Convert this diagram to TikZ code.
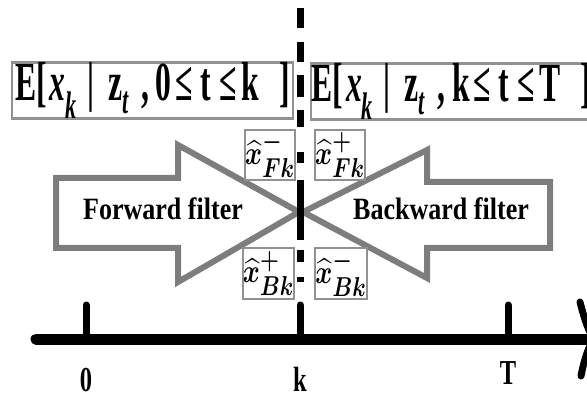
\documentclass[tikz,border=0pt]{standalone}
\usepackage{fontspec}
\setmainfont{Liberation Serif}
\usepackage{amsmath,bm,graphicx}
\definecolor{framegray}{RGB}{145,145,145}
\definecolor{arrowgray}{RGB}{125,125,125}
\newcommand{\condtext}[2]{E[\hspace{5pt}\textit{x}\textsubscript{\textit{k}}\hspace{18pt}|\hspace{25pt}z\textsubscript{\textit{t}}\hspace{20pt},\hspace{12pt}#1\hspace{6pt}≤\hspace{14pt}t\hspace{14pt}≤\hspace{8pt}#2\hspace{36pt}]}

\begin{document}
\begin{tikzpicture}[x=1pt,y=-1pt,
    condbox/.style={draw=framegray,line width=2.5pt,minimum width=281pt,minimum height=55pt,
      inner sep=0pt,font=\fontsize{55}{60}\selectfont\bfseries},
    estbox/.style={draw=framegray,line width=2pt,minimum width=46pt,minimum height=50pt,
      inner sep=0pt,font=\fontsize{19}{22}\selectfont},
    filterarrow/.style={draw=arrowgray,line width=6pt,line join=miter},
    filtertext/.style={font=\fontsize{31}{33}\selectfont\bfseries,anchor=base,inner sep=0pt},
    ticklabel/.style={font=\fontsize{35}{36}\selectfont\bfseries,anchor=base,inner sep=0pt},
    timetick/.style={line width=7pt,line cap=round}]
  \useasboundingbox (0,0) rectangle (587,401);
  \clip (0,0) rectangle (587,401);
  \draw[filterarrow] (56,178) -- (178,178) -- (178,145) -- (299,212) -- (178,282) -- (178,248) -- (56,248) -- cycle;
  \draw[filterarrow] (550,182) -- (427,182) -- (427,150) -- (303,212) -- (427,278) -- (427,248) -- (550,248) -- cycle;
  \node[filtertext] (fwd) at (163,220) {\scalebox{0.84}[1]{Forward filter}};
  \node[filtertext] (bwd) at (441,220) {\scalebox{0.84}[1]{Backward filter}};
  \draw[line width=7pt,dash pattern=on 20pt off 14pt on 20pt off 13pt on 22pt off 13pt on 17pt off 25pt
    on 11pt off 17pt on 60pt off 10pt on 12pt off 15pt on 5pt off 20pt] (300,8) -- (300,302);
  \node[condbox] (past) at (152.5,90.5) {\scalebox{0.575}[1]{\condtext{0}{k}}};
  \node[condbox] (future) at (451.5,91.5) {\scalebox{0.575}[1]{\condtext{k}{T}}};
  \node[estbox] (fminus) at (270,155) {\scalebox{1.5}[1.9]{$\bm{\widehat{x}^{-}_{Fk}}$}};
  \node[estbox] (fplus) at (340,155) {\scalebox{1.5}[1.9]{$\bm{\widehat{x}^{+}_{Fk}}$}};
  \node[estbox] (bplus) at (268.5,273.5) {\scalebox{1.5}[1.9]{$\bm{\widehat{x}^{+}_{Bk}}$}};
  \node[estbox] (bminus) at (341,273.5) {\scalebox{1.5}[1.9]{$\bm{\widehat{x}^{-}_{Bk}}$}};
  \coordinate (start) at (36,339);
  \coordinate (tip) at (594,339);
  \draw[line width=11pt,line cap=round] (start) -- (tip);
  \draw[line width=7pt,line cap=round] (580,302) .. controls (584,318) and (589,333) .. (tip)
    .. controls (589,345) and (584,360) .. (581,376);
  \foreach \x/\y/\lab in {86/391/0, 300/391/k, 508/384/T} {
    \draw[timetick] (\x,305) -- (\x,339);
    \node[ticklabel] (lab-\lab) at (\x,\y) {\scalebox{0.7}[1]{\lab}};
  }
\end{tikzpicture}
\end{document}
